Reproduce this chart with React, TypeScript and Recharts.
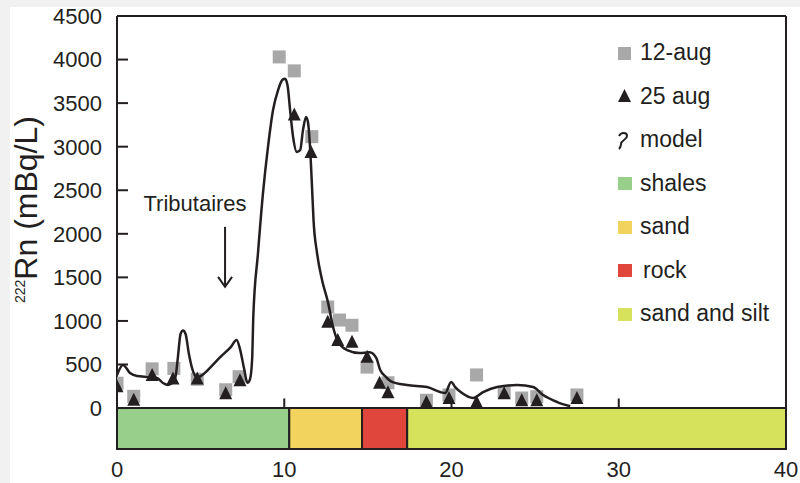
import {
  ComposedChart,
  Scatter,
  XAxis,
  YAxis,
  ReferenceArea,
  ReferenceLine,
  ReferenceDot,
  Legend,
} from "recharts";

const INK = "#231f20";
const FONT = '"Liberation Sans", Arial, Helvetica, sans-serif';

// 12-aug samples (grey squares)
const aug12X = [0, 1, 2.1, 3.4, 4.8, 6.5, 7.3, 9.7, 10.6, 11.65, 12.6, 13.3, 14.05, 14.95, 16.2, 18.5, 19.85, 21.5, 23.15, 24.2, 25.1, 27.5];
const aug12Y = [285, 135, 450, 455, 330, 210, 360, 4030, 3870, 3115, 1160, 1010, 950, 470, 290, 90, 150, 380, 180, 115, 130, 150];

// 25 aug samples (black triangles)
const aug25X = [0, 1, 2.1, 3.35, 4.8, 6.5, 7.35, 10.6, 11.6, 12.6, 13.2, 14.05, 14.95, 15.7, 16.2, 18.5, 19.85, 21.5, 23.15, 24.2, 25.1, 27.5];
const aug25Y = [250, 95, 380, 340, 340, 170, 320, 3370, 2940, 990, 780, 760, 590, 290, 180, 70, 115, 70, 170, 90, 90, 115];

// model curve
const modelX = [0, 0.36, 0.78, 1.2, 1.97, 2.39, 2.75, 3.05, 3.35, 3.5, 3.65, 3.8, 3.95, 4.1, 4.3, 4.5, 4.8, 5.1, 5.6, 6.2, 6.8, 7.15, 7.35, 7.6, 7.8, 7.95, 8.08, 8.15, 8.43, 8.73, 9.03, 9.33, 9.63, 9.9, 10.05, 10.2, 10.35, 10.53, 10.75, 10.95, 11.12, 11.3, 11.42, 11.54, 11.66, 11.75, 11.96, 12.26, 12.62, 12.92, 13.22, 13.76, 14.5, 15.1, 15.5, 15.73, 16.09, 16.45, 17.34, 18.54, 19.32, 19.62, 19.98, 20.22, 20.63, 21.29, 21.89, 22.73, 23.92, 24.88, 25.48, 26.32, 27.1];
const modelY = [380, 494, 402, 368, 356, 345, 287, 264, 299, 360, 600, 850, 890, 850, 620, 450, 350, 380, 470, 590, 700, 780, 680, 450, 290, 330, 560, 1050, 1780, 2470, 3000, 3420, 3650, 3770, 3780, 3700, 3420, 3110, 2940, 2960, 3190, 3340, 3280, 3000, 2540, 2160, 1780, 1470, 1210, 930, 760, 666, 632, 640, 575, 440, 356, 300, 264, 241, 184, 172, 300, 241, 172, 115, 184, 241, 264, 241, 149, 69, 20];

// geology along the profile
const strataNames = ["shales", "sand", "rock", "sand and silt"];
const strataFrom = [0, 10.3, 14.65, 17.35];
const strataTo = [10.3, 14.65, 17.35, 40];
const strataColors = ["#97cf8b", "#f2d35d", "#e0463c", "#d6e15c"];

const yTicks = [0, 500, 1000, 1500, 2000, 2500, 3000, 3500, 4000, 4500];
const xTicks = [0, 10, 20, 30, 40];
const innerXTicks = [10, 20, 30];

const aug12 = aug12X.map((x, i) => ({ x, y: aug12Y[i] }));
const aug25 = aug25X.map((x, i) => ({ x, y: aug25Y[i] }));
const model = modelX.map((x, i) => ({ x, y: modelY[i] }));

const SquareShape = (p: any) => (
  <rect x={p.cx - 6.5} y={p.cy - 6.5} width={13} height={13} fill="#a8a8a8" />
);

const TriangleShape = (p: any) => (
  <polygon
    points={`${p.cx},${p.cy - 7} ${p.cx + 6.5},${p.cy + 6} ${p.cx - 6.5},${p.cy + 6}`}
    fill={INK}
  />
);

const NoShape = () => <g />;

const YTick = (props: any) => {
  const { x, y, payload } = props;
  return (
    <g>
      <line x1={x + 15} x2={x + 26} y1={y} y2={y} stroke={INK} strokeWidth={2} />
      <text x={x} y={y} dy="0.36em" textAnchor="end" fontSize={22} fontFamily={FONT} fill={INK}>
        {payload.value}
      </text>
    </g>
  );
};

// "Tributaires" arrow, anchored at the top of the arrow shaft
const Tributaires = (p: any) => {
  const { cx, cy } = p;
  return (
    <g>
      <text x={cx - 30} y={cy - 16} textAnchor="middle" fontSize={22} fontFamily={FONT} fill={INK}>
        Tributaires
      </text>
      <line x1={cx} x2={cx} y1={cy} y2={cy + 60} stroke={INK} strokeWidth={2} />
      <polyline
        points={`${cx - 7},${cy + 50} ${cx},${cy + 60} ${cx + 7},${cy + 50}`}
        fill="none"
        stroke={INK}
        strokeWidth={2}
      />
    </g>
  );
};

const legendLabels = ["12-aug", "25 aug", "model", ...strataNames];

const LegendIcon = ({ i }: { i: number }) => {
  if (i === 0) return <rect x={6} y={4} width={13} height={13} fill="#a8a8a8" />;
  if (i === 1) return <polygon points="12.5,3 19,16 6,16" fill={INK} />;
  if (i === 2)
    return (
      <path
        d="M7,6 C9,2 15,2 15,6 C15,10 9,10 9,14 C9,16 8,18 7,19"
        fill="none"
        stroke={INK}
        strokeWidth={2}
      />
    );
  return <rect x={6} y={4} width={14} height={13} fill={strataColors[i - 3]} />;
};

const renderLegend = () => (
  <div style={{ fontFamily: FONT, fontSize: 23, color: INK }}>
    {legendLabels.map((label, i) => (
      <div key={label} style={{ display: "flex", alignItems: "center", height: 43.5 }}>
        <svg width={28} height={20} style={{ flex: "none" }}>
          <LegendIcon i={i} />
        </svg>
        <span style={{ paddingLeft: label === "rock" ? 3 : 0, whiteSpace: "nowrap" }}>{label}</span>
      </div>
    ))}
  </div>
);

export default function App() {
  return (
    <div style={{ position: "fixed", left: 0, top: 0, width: 800, height: 483, background: "#f1f1f1" }}>
      <div style={{ position: "absolute", left: 10, top: 7, right: 0, bottom: 0, background: "#fff" }} />
      <div style={{ position: "absolute", left: 0, top: 0 }}>
        <ComposedChart
          width={800}
          height={483}
          margin={{ top: 16, right: 14, bottom: 0, left: 0 }}
          style={{ fontFamily: FONT }}
        >
          <XAxis
            type="number"
            dataKey="x"
            domain={[0, 40]}
            ticks={xTicks}
            height={34}
            axisLine={false}
            tickLine={false}
            tickSize={0}
            tickMargin={12}
            tick={{ fontSize: 22, fill: INK, fontFamily: FONT }}
            allowDataOverflow
          />
          <YAxis
            type="number"
            dataKey="y"
            domain={[-470, 4500]}
            ticks={yTicks}
            width={117}
            axisLine={{ stroke: INK, strokeWidth: 2 }}
            tickLine={false}
            tickSize={0}
            tickMargin={15}
            tick={<YTick />}
            interval={0}
            allowDataOverflow
          />

          {strataNames.map((name, i) => (
            <ReferenceArea
              key={name}
              x1={strataFrom[i]}
              x2={strataTo[i]}
              y1={-470}
              y2={0}
              fill={strataColors[i]}
              fillOpacity={1}
              stroke={INK}
              strokeWidth={2}
            />
          ))}
          <ReferenceLine y={4500} stroke={INK} strokeWidth={2} />
          <ReferenceLine x={40} stroke={INK} strokeWidth={2} />
          {innerXTicks.map((t) => (
            <ReferenceLine
              key={t}
              segment={[
                { x: t, y: 0 },
                { x: t, y: 110 },
              ]}
              stroke={INK}
              strokeWidth={2}
            />
          ))}

          <Scatter data={aug12} shape={SquareShape} isAnimationActive={false} />
          <Scatter
            data={model}
            shape={NoShape}
            line={{ stroke: INK, strokeWidth: 2.5 }}
            lineType="joint"
            lineJointType="monotoneX"
            isAnimationActive={false}
          />
          <Scatter data={aug25} shape={TriangleShape} isAnimationActive={false} />

          <ReferenceDot x={6.46} y={2080} r={0} shape={Tributaires} />

          <Legend
            layout="horizontal"
            verticalAlign="middle"
            align="center"
            width={185}
            content={renderLegend}
            wrapperStyle={{ top: 31, left: 612, width: 185 }}
          />
        </ComposedChart>
      </div>
      <svg
        width={60}
        height={483}
        style={{ position: "absolute", left: 0, top: 0, pointerEvents: "none" }}
      >
        <text transform="translate(37,303) rotate(-90)" fontFamily={FONT} fill={INK}>
          <tspan fontSize={14} dy={-12}>
            222
          </tspan>
          <tspan fontSize={32} dy={12}>
            Rn (mBq/L)
          </tspan>
        </text>
      </svg>
    </div>
  );
}
